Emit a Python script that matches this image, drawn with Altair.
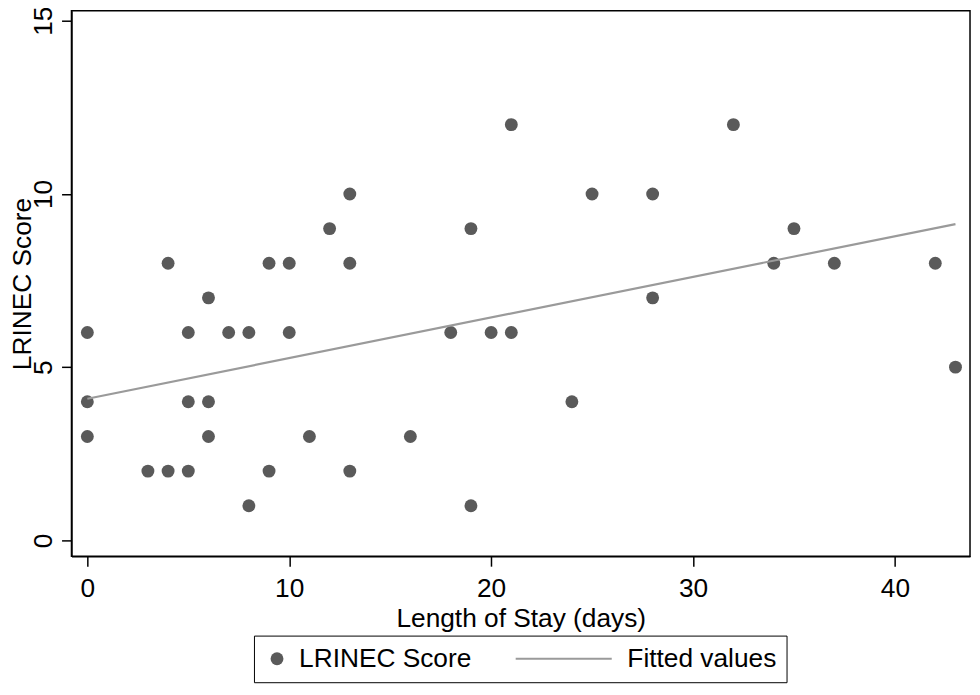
import altair as alt
import pandas as pd

# Length of stay (days) and LRINEC score
los = [0, 0, 0, 3, 4, 4, 5, 5, 5, 6, 6, 6, 7, 8, 8, 9, 9, 10, 10, 11, 12,
       13, 13, 13, 16, 18, 19, 19, 20, 21, 21, 24, 25, 28, 28, 32, 34, 35,
       37, 42, 43]
score = [6, 4, 3, 2, 8, 2, 6, 4, 2, 7, 4, 3, 6, 6, 1, 8, 2, 8, 6, 3, 9,
         10, 8, 2, 3, 6, 9, 1, 6, 12, 6, 4, 10, 10, 7, 12, 8, 9, 8, 8, 5]

# Fitted values line (end points)
fit_x = [0, 43]
fit_y = [4.09, 9.13]

series_names = ["LRINEC Score", "Fitted values"]
x_ticks = [0, 10, 20, 30, 40]
y_ticks = [0, 5, 10, 15]

pts = pd.DataFrame({"los": los, "score": score, "series": series_names[0]})
fit = pd.DataFrame({"los": fit_x, "score": fit_y})

FONT = "Liberation Sans"
FS = 26.5
POINT_COLOR = "#5a5a5a"
LINE_COLOR = "#9a9a9a"

x_scale = alt.Scale(domain=[-0.786, 43.72], nice=False, zero=False)
y_scale = alt.Scale(domain=[-0.458, 15.286], nice=False, zero=False)

x_axis = alt.Axis(values=x_ticks, title="Length of Stay (days)", grid=False,
                  labelPadding=10, titlePadding=3, format="d")
y_axis = alt.Axis(values=y_ticks, title="LRINEC Score", grid=False,
                  labelAngle=-90, labelAlign="center", labelBaseline="alphabetic",
                  labelPadding=10, titlePadding=-6, format="d")

# legend key for the fitted line: a long thin bar ending at the key position
line_path = "M-13.9,-0.16H1V0.16H-13.9Z"

leg = alt.Legend(
    title=None, orient="none", legendX=184, legendY=630,
    direction="horizontal", strokeColor="black", padding=10,
    labelFont=FONT, labelFontSize=FS, labelColor="black", labelLimit=400,
    labelOffset=9, columnPadding=43, symbolSize=169,
    symbolStrokeWidth=0, symbolOpacity=1,
)

points = alt.Chart(pts).mark_point(filled=True, size=169, opacity=1).encode(
    x=alt.X("los:Q", scale=x_scale, axis=x_axis),
    y=alt.Y("score:Q", scale=y_scale, axis=y_axis),
    color=alt.Color("series:N",
                    scale=alt.Scale(domain=series_names, range=[POINT_COLOR, LINE_COLOR]),
                    legend=leg),
    shape=alt.Shape("series:N",
                    scale=alt.Scale(domain=series_names, range=["circle", line_path]),
                    legend=leg),
)

line = alt.Chart(fit).mark_line(color=LINE_COLOR, strokeWidth=2.2).encode(
    x=alt.X("los:Q", scale=x_scale),
    y=alt.Y("score:Q", scale=y_scale),
)

chart = alt.layer(points, line).properties(
    width=906, height=550,
    autosize=alt.AutoSizeParams(type="none"),
    padding={"left": 64, "top": 0, "right": 2, "bottom": 129},
    background="white",
).configure_view(
    stroke="black", strokeWidth=1.5
).configure_axis(
    domainColor="black", domainWidth=1.5, tickColor="black", tickWidth=1.5,
    tickSize=10, labelFont=FONT, labelFontSize=FS, labelColor="black",
    titleFont=FONT, titleFontSize=FS, titleFontWeight="normal", titleColor="black",
)

chart.save("out.html", embed_options={"renderer": "svg", "actions": False})
